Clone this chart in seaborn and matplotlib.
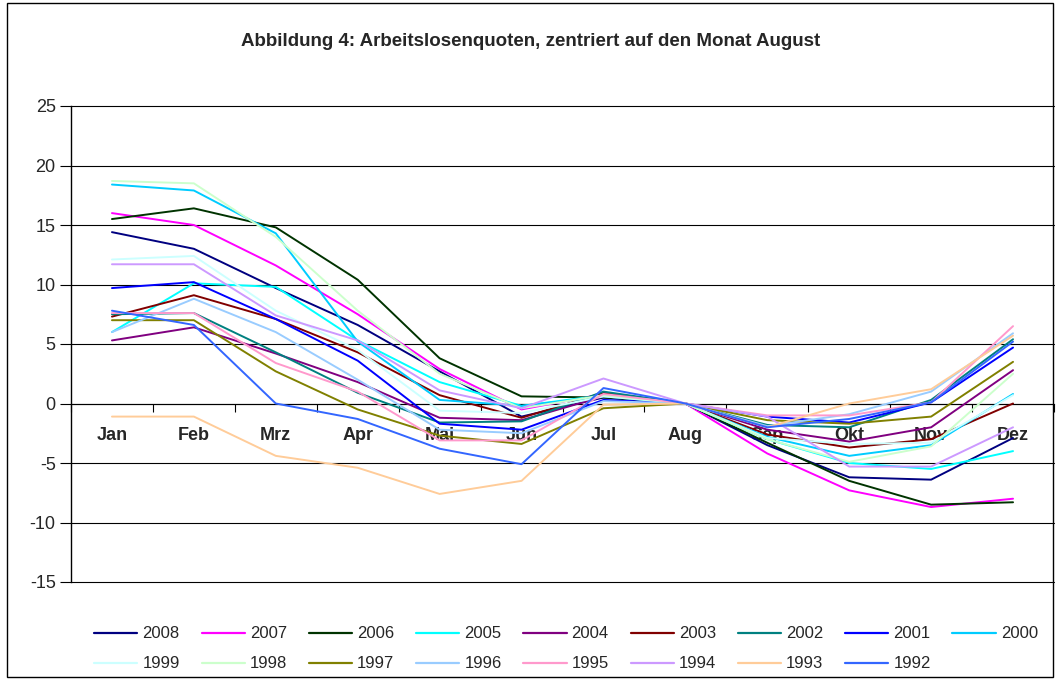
import numpy as np
import pandas as pd
import matplotlib
matplotlib.use("Agg")
import matplotlib.pyplot as plt
from matplotlib.lines import Line2D
from matplotlib.patches import Rectangle
import seaborn as sns

months = ["Jan", "Feb", "Mrz", "Apr", "Mai", "Jun", "Jul", "Aug", "Sep", "Okt", "Nov", "Dez"]
years = ["2008", "2007", "2006", "2005", "2004", "2003", "2002", "2001", "2000",
         "1999", "1998", "1997", "1996", "1995", "1994", "1993", "1992"]

y2008 = [14.4, 13.0, 9.7, 6.6, 2.7, -1.1, 0.5, 0, -3.5, -6.2, -6.4, -2.9]
y2007 = [16.0, 15.0, 11.6, 7.5, 2.9, -0.5, 0.8, 0, -4.2, -7.3, -8.7, -8.0]
y2006 = [15.5, 16.4, 14.8, 10.4, 3.8, 0.6, 0.5, 0, -3.3, -6.5, -8.5, -8.3]
y2005 = [6.0, 10.1, 9.8, 5.3, 1.8, -0.2, 0.7, 0, -3.0, -5.0, -5.5, -4.0]
y2004 = [5.3, 6.4, 4.2, 1.8, -1.2, -1.4, 0.6, 0, -2.2, -3.2, -2.0, 2.8]
y2003 = [7.3, 9.1, 7.1, 4.3, 0.7, -1.2, 0.9, 0, -2.6, -3.7, -3.0, 0.0]
y2002 = [7.5, 7.6, 4.3, 0.9, -1.6, -1.5, 1.0, 0, -1.8, -2.0, 0.3, 5.4]
y2001 = [9.7, 10.2, 7.1, 3.6, -1.7, -2.2, 0.3, 0, -1.1, -1.6, 0.1, 4.7]
y2000 = [18.4, 17.9, 14.3, 5.2, 0.3, -0.2, 0.6, 0, -2.8, -4.4, -3.5, 0.8]
y1999 = [12.1, 12.4, 7.8, 4.5, -0.6, -0.8, 0.6, 0, -2.9, -3.4, -3.3, 0.7]
y1998 = [18.7, 18.5, 14.0, 7.8, 2.5, -0.4, 0.7, 0, -3.0, -4.9, -3.6, 2.5]
y1997 = [7.0, 7.0, 2.7, -0.5, -2.7, -3.4, -0.4, 0, -1.4, -1.7, -1.1, 3.5]
y1996 = [6.0, 8.8, 6.0, 2.0, -2.2, -2.5, 0.2, 0, -1.9, -0.9, 1.0, 5.9]
y1995 = [7.6, 7.6, 3.4, 1.0, -3.1, -3.1, 0.8, 0, -1.0, -1.0, 0.1, 6.5]
y1994 = [11.7, 11.7, 7.4, 5.3, 1.1, -0.4, 2.1, 0, -1.1, -5.3, -5.3, -2.0]
y1993 = [-1.1, -1.1, -4.4, -5.4, -7.6, -6.5, -0.1, 0, -2.0, 0.0, 1.2, 5.7]
y1992 = [7.8, 6.6, 0.0, -1.3, -3.8, -5.1, 1.3, 0, -2.0, -1.3, 0.1, 5.2]

series = [y2008, y2007, y2006, y2005, y2004, y2003, y2002, y2001, y2000,
          y1999, y1998, y1997, y1996, y1995, y1994, y1993, y1992]

colors = ["#000080", "#FF00FF", "#003300", "#00FFFF", "#800080", "#800000",
          "#008080", "#0000FF", "#00CCFF", "#CCFFFF", "#CCFFCC", "#808000",
          "#99CCFF", "#FF99CC", "#CC99FF", "#FFCC99", "#3366FF"]

title = "Abbildung 4: Arbeitslosenquoten, zentriert auf den Monat August"
yticks = [-15, -10, -5, 0, 5, 10, 15, 20, 25]

rows = []
for yr, vals in zip(years, series):
    for i, v in enumerate(vals):
        rows.append({"Jahr": yr, "pos": i, "Wert": v})
df = pd.DataFrame(rows)
palette = dict(zip(years, colors))

sns.set_style("white")
plt.rcParams["font.family"] = ["Liberation Sans", "DejaVu Sans"]

fig = plt.figure(figsize=(10.6, 6.8), dpi=100)
ax = fig.add_axes([71 / 1060, 1 - 582 / 680, (1054 - 71) / 1060, (582 - 106) / 680])

sns.lineplot(data=df, x="pos", y="Wert", hue="Jahr", hue_order=years,
             palette=palette, sort=False, linewidth=1.4, ax=ax, legend=False)
for ln in ax.get_lines():
    ln.set_zorder(3)

# spine position first (it resets tick settings)
for s in ["top", "right"]:
    ax.spines[s].set_visible(False)
ax.spines["bottom"].set_position(("data", 0))
ax.spines["bottom"].set_color("#000000")
ax.spines["bottom"].set_linewidth(0.8)
ax.spines["left"].set_color("#000000")
ax.spines["left"].set_linewidth(1.0)

ax.set_xlim(-0.5, len(months) - 0.5)
ax.set_ylim(yticks[0], yticks[-1])
ax.set_yticks(yticks)
ax.set_yticklabels([str(t) for t in yticks], fontsize=13)
for t in yticks:
    ax.axhline(t, color="#000000", linewidth=0.8, zorder=0, clip_on=False)

ax.set_xticks(np.arange(len(months)))
ax.set_xticklabels(months, fontsize=13, fontweight="bold")
ax.set_xticks(np.arange(len(months) + 1) - 0.5, minor=True)
ax.tick_params(axis="x", which="major", length=0, pad=17, bottom=True)
ax.tick_params(axis="x", which="minor", length=6, width=0.8, direction="out",
               color="#000000", bottom=True)
ax.tick_params(axis="y", which="major", length=8, width=0.8, direction="out",
               color="#000000", pad=3, left=True)
ax.xaxis.set_zorder(2.2)
ax.set_xlabel("")
ax.set_ylabel("")

fig.text(531 / 1060, 1 - 42 / 680, title, ha="center", va="center",
         fontsize=13.5, fontweight="bold")

# legend: row-wise order across 9 columns
handles = [Line2D([0], [0], color=c, linewidth=1.6) for c in colors]
order = []
for i in range(8):
    order += [i, 9 + i]
order.append(8)
fig.legend([handles[i] for i in order], [years[i] for i in order],
           ncol=9, loc="center", bbox_to_anchor=(566 / 1060, 1 - 649 / 680),
           frameon=False, fontsize=12, handlelength=2.6, handletextpad=0.3,
           columnspacing=1.3, labelspacing=0.9)

fig.patches.append(Rectangle((7 / 1060, 3 / 680), (1053 - 7) / 1060, (677 - 3) / 680,
                             transform=fig.transFigure, fill=False,
                             edgecolor="#000000", linewidth=1.0))

fig.savefig("out.png", dpi=100)
